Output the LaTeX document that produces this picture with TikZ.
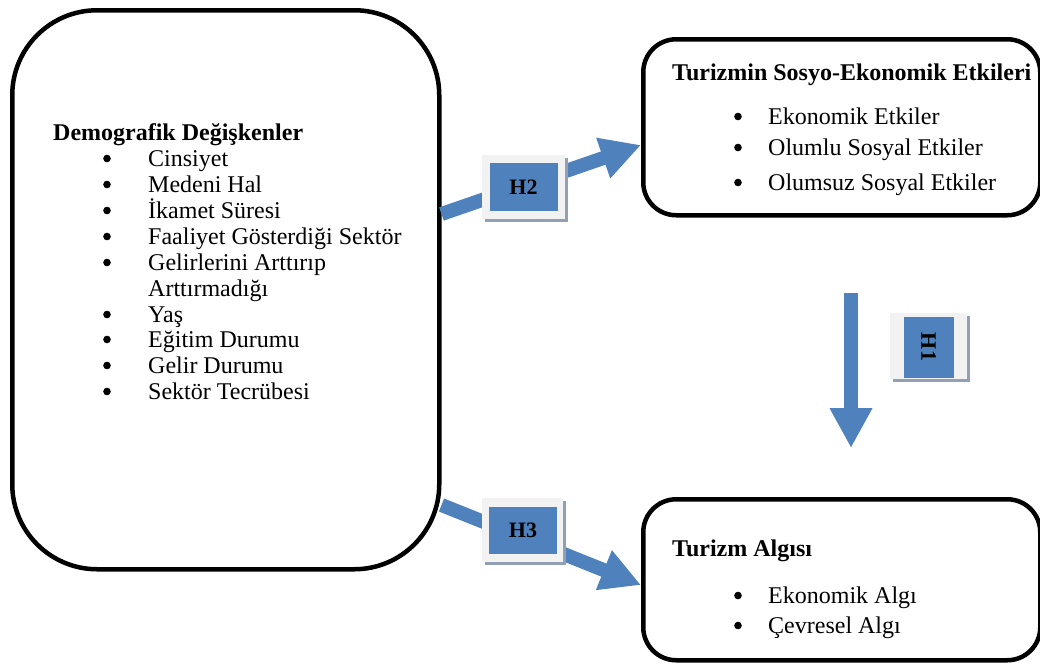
\documentclass[tikz,border=0pt]{standalone}
\usepackage{fontspec}
\setmainfont{Liberation Serif}
\usepackage{xcolor}
\usepackage{tikz}
\usetikzlibrary{arrows.meta,shadows}

\definecolor{okmavi}{HTML}{4F81BD}
\definecolor{acikgri}{HTML}{F2F2F2}
\definecolor{golge}{HTML}{939FB4}

\newcommand{\nokta}{\tikz[baseline=-7.5pt]\fill (0,0) circle (3.8pt);}
\newcommand{\solmadde}{\makebox[45pt][l]{\nokta}}
\newcommand{\sagmadde}{\makebox[34pt][l]{\nokta}}

\tikzset{
  every node/.style={font=\fontsize{24}{26}\selectfont},
  kutu/.style={draw, line width=4.5pt, anchor=north west, inner sep=0pt},
  yazi/.style={anchor=base west, inner sep=0pt, text height=16pt, text depth=5pt},
  baslik/.style={anchor=base west, inner sep=0pt, text height=16pt, text depth=5pt,
    font=\fontsize{24}{26}\selectfont\bfseries},
  ok/.style={draw=okmavi, line width=14pt, -{Triangle[length=40pt,width=40pt]}},
  cerceve/.style={fill=acikgri, inner sep=0pt,
    drop shadow={shadow xshift=3pt, shadow yshift=-3pt, fill=golge, opacity=1}},
  etiket/.style={fill=okmavi, inner sep=0pt, font=\fontsize{22}{26}\selectfont\bfseries}
}

\begin{document}
\begin{tikzpicture}[x=1pt,y=-1pt]
\useasboundingbox (0,0) rectangle (1040,662);

% kutular
\node[kutu, rounded corners=85pt, minimum width=427pt, minimum height=559pt] (demo) at (10,8) {};
\node[kutu, rounded corners=33pt, minimum width=397pt, minimum height=176pt] (etki) at (641,37) {};
\node[kutu, rounded corners=33pt, minimum width=397pt, minimum height=161pt] (algi) at (641,497) {};

% demografik
\node[baslik] (demot) at (53,140) {Demografik Değişkenler};
\node[yazi] (d1) at (103,166) {\solmadde Cinsiyet};
\node[yazi] (d2) at (103,192) {\solmadde Medeni Hal};
\node[yazi] (d3) at (103,218) {\solmadde İkamet Süresi};
\node[yazi] (d4) at (103,244) {\solmadde Faaliyet Gösterdiği Sektör};
\node[yazi] (d5) at (103,270) {\solmadde Gelirlerini Arttırıp};
\node[yazi] (d5b) at (148,296) {Arttırmadığı};
\node[yazi] (d6) at (103,322) {\solmadde Yaş};
\node[yazi] (d7) at (103,347) {\solmadde Eğitim Durumu};
\node[yazi] (d8) at (103,373) {\solmadde Gelir Durumu};
\node[yazi] (d9) at (103,399) {\solmadde Sektör Tecrübesi};

% etkiler
\node[baslik] (etkit) at (672,80) {Turizmin Sosyo-Ekonomik Etkileri};
\node[yazi] (e1) at (734,124) {\sagmadde Ekonomik Etkiler};
\node[yazi] (e2) at (734,155) {\sagmadde Olumlu Sosyal Etkiler};
\node[yazi] (e3) at (734,190) {\sagmadde Olumsuz Sosyal Etkiler};

% algi
\node[baslik] (algit) at (672,556) {Turizm Algısı};
\node[yazi] (a1) at (734,603) {\sagmadde Ekonomik Algı};
\node[yazi] (a2) at (734,633) {\sagmadde Çevresel Algı};

% oklar
\draw[ok] (demo.east |- 0,214) -- (etki.west |- 0,145);
\draw[ok] (demo.east |- 0,505) -- (algi.west |- 0,585);
\coordinate (h1bas) at (851,293);
\coordinate (h1son) at (851,448);
\draw[ok] (h1bas) -- (h1son);

% hipotezler
\node[cerceve, minimum width=83pt, minimum height=64pt] (h2) at (523.5,187) {};
\node[etiket, minimum width=68pt, minimum height=48pt] (h2i) at (h2) {H2};
\node[cerceve, minimum width=81pt, minimum height=64pt] (h3) at (522.5,530) {};
\node[etiket, minimum width=68pt, minimum height=47pt] (h3i) at (523,530.5) {H3};
\node[cerceve, minimum width=77pt, minimum height=66pt] (h1) at (928.5,346) {};
\node[etiket, minimum width=61pt, minimum height=50pt, rotate=-90] (h1i) at (928.5,347) {H1};
\end{tikzpicture}
\end{document}
